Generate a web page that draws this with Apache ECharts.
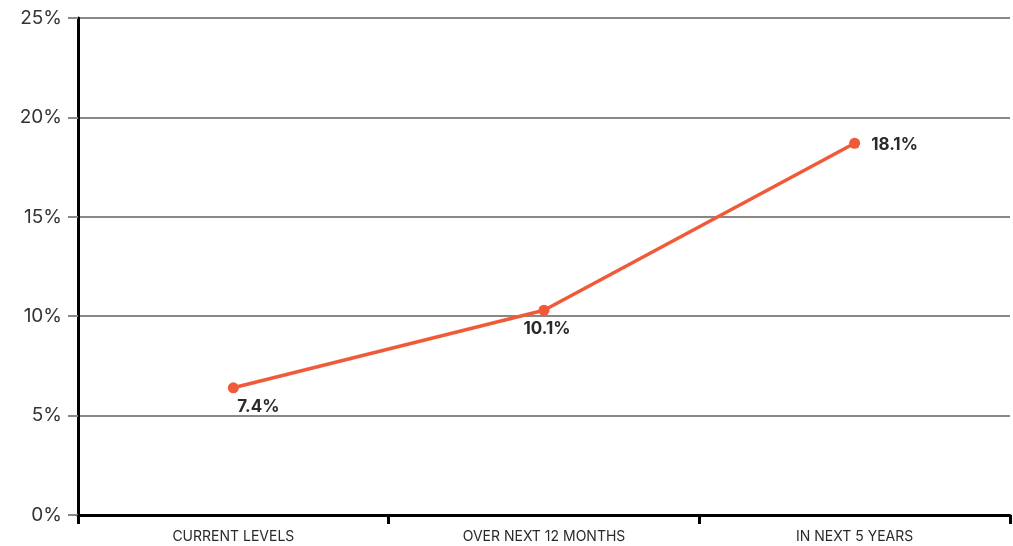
<!DOCTYPE html>
<html>
<head>
<meta charset="utf-8">
<script src="https://cdn.jsdelivr.net/npm/echarts@6/dist/echarts.min.js"></script>
<style>html,body{margin:0;padding:0;background:#fff}#c{width:1013px;height:546px}</style>
</head>
<body>
<div id="c"></div>
<script>
const categories = ['CURRENT LEVELS', 'OVER NEXT 12 MONTHS', 'IN NEXT 5 YEARS'];
const values = [6.4, 10.3, 18.7];
const valueLabels = ['7.4%', '10.1%', '18.1%'];
const yTicks = [0, 5, 10, 15, 20, 25];

const labelPos = [
  { position: 'bottom', offset: [25, 0] },
  { position: 'bottom', offset: [3, 0] },
  { position: 'right', offset: [6, 2] }
];

const chart = echarts.init(document.getElementById('c'));
chart.setOption({
  animation: false,
  backgroundColor: '#fff',
  grid: { left: 78, right: 3, top: 18, bottom: 31, containLabel: false },
  xAxis: {
    type: 'category',
    data: categories,
    boundaryGap: true,
    axisLine: { lineStyle: { color: '#000', width: 3 } },
    axisTick: { show: true, length: 9, lineStyle: { color: '#000', width: 3 } },
    axisLabel: { color: '#2a2a2a', fontSize: 14, fontFamily: 'Inter', margin: 15 },
    splitLine: { show: false }
  },
  yAxis: {
    type: 'value',
    min: yTicks[0],
    max: yTicks[yTicks.length - 1],
    interval: 5,
    axisLine: { show: true, lineStyle: { color: '#000', width: 3 } },
    axisTick: { show: true, length: 10, lineStyle: { color: '#8c8782', width: 2 } },
    axisLabel: { color: '#333', fontSize: 19, fontFamily: 'Inter', margin: 16, formatter: v => v + '%' },
    splitLine: { show: true, lineStyle: { color: '#8c8782', width: 2 } }
  },
  series: [{
    type: 'line',
    data: values.map((v, i) => ({
      value: v,
      label: {
        show: true,
        formatter: valueLabels[i],
        position: labelPos[i].position,
        offset: labelPos[i].offset,
        color: '#2a2a2a',
        fontSize: 17,
        fontWeight: 'bold',
        fontFamily: 'Inter'
      }
    })),
    symbol: 'circle',
    symbolSize: 11,
    itemStyle: { color: '#f05a38' },
    lineStyle: { color: '#f05a38', width: 3.5 },
    z: 5
  }]
});
</script>
</body>
</html>
